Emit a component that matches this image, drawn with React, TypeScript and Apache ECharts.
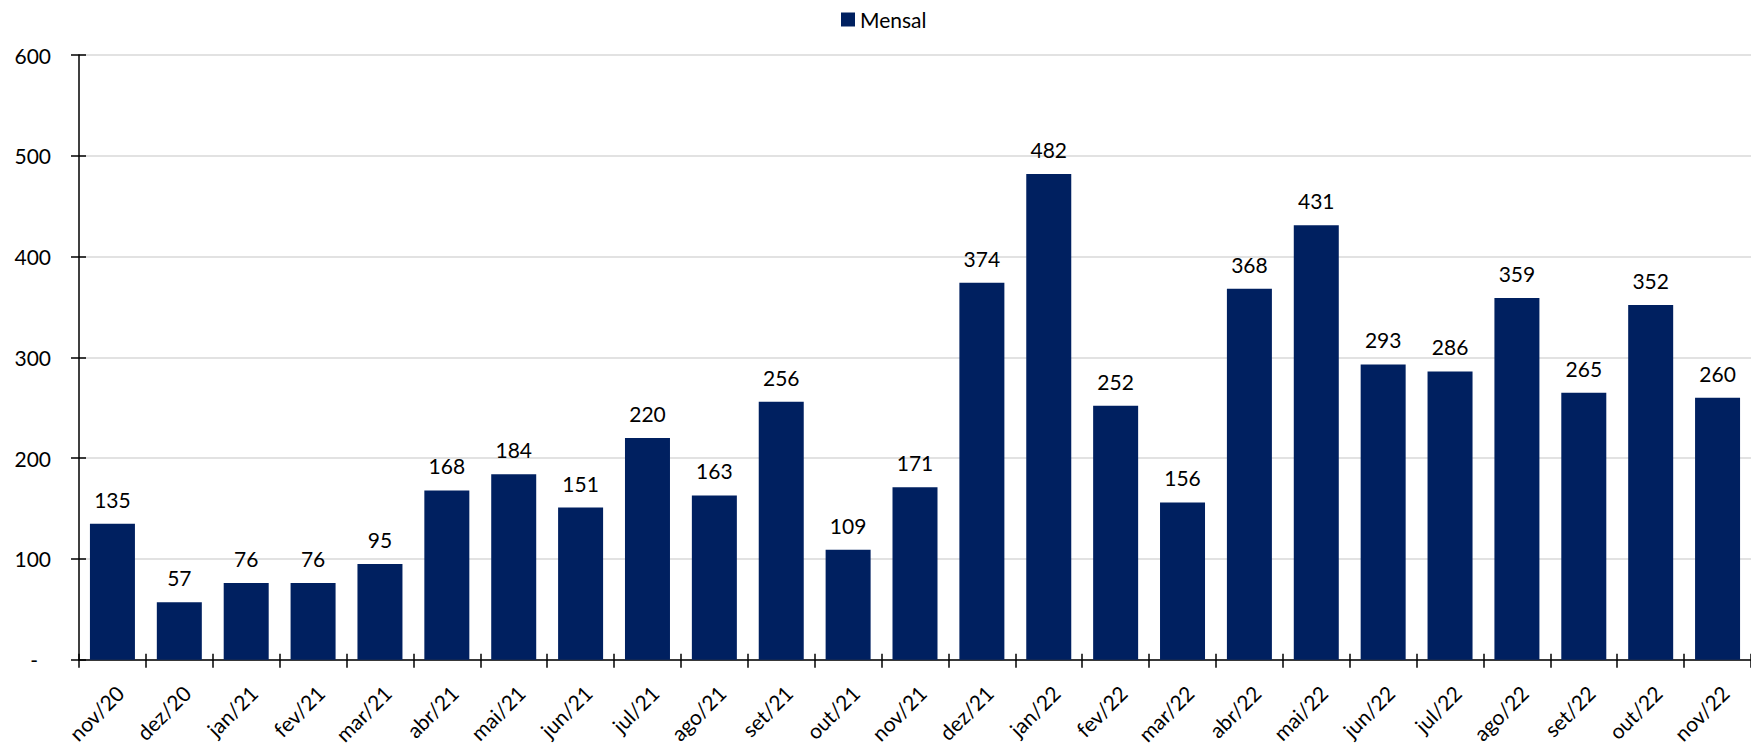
import React, { useEffect, useRef } from "react";
import * as echarts from "echarts";

const categories = [
  "nov/20", "dez/20", "jan/21", "fev/21", "mar/21", "abr/21", "mai/21", "jun/21",
  "jul/21", "ago/21", "set/21", "out/21", "nov/21", "dez/21", "jan/22", "fev/22",
  "mar/22", "abr/22", "mai/22", "jun/22", "jul/22", "ago/22", "set/22", "out/22", "nov/22",
];
const mensal = [
  135, 57, 76, 76, 95, 168, 184, 151, 220, 163, 256, 109, 171, 374, 482, 252,
  156, 368, 431, 293, 286, 359, 265, 352, 260,
];
const seriesName = "Mensal";
const yMin = 0;
const yMax = 600;
const yInterval = 100;

const FONT = "Lato";
const BAR = "#002060";

export default function App() {
  const ref = useRef<HTMLDivElement>(null);
  useEffect(() => {
    document.body.style.margin = "0";
    const chart = echarts.init(ref.current!, null, { renderer: "svg" });
    chart.setOption({
      animation: false,
      textStyle: { fontFamily: FONT },
      legend: {
        data: [seriesName],
        left: 841,
        top: 9,
        padding: 0,
        itemWidth: 14,
        itemHeight: 14,
        icon: "rect",
        textStyle: { fontFamily: FONT, fontSize: 21, color: "#000" },
      },
      grid: { left: 79, right: -6, top: 55, bottom: 87, containLabel: false },
      xAxis: [
        {
          type: "category",
          data: categories,
          boundaryGap: true,
          axisLine: { lineStyle: { color: "#000", width: 1.5 } },
          axisTick: { show: true, length: 8, lineStyle: { color: "#000", width: 1.5 } },
          axisLabel: {
            rotate: 45,
            interval: 0,
            margin: 22,
            verticalAlign: "top",
            fontFamily: FONT,
            fontSize: 21,
            color: "#000",
          },
        },
        {
          type: "category",
          data: categories,
          position: "bottom",
          boundaryGap: true,
          axisLine: { show: false },
          axisTick: { show: true, inside: true, length: 6, lineStyle: { color: "#000", width: 1.5 } },
          axisLabel: { show: false },
        },
      ],
      yAxis: [
        {
          type: "value",
          min: yMin,
          max: yMax,
          interval: yInterval,
          axisLine: { show: true, lineStyle: { color: "#000", width: 1.5 } },
          axisTick: { show: true, length: 8, lineStyle: { color: "#000", width: 1.5 } },
          splitLine: { show: true, lineStyle: { color: "#d9d9d9", width: 1.5 } },
          axisLabel: {
            margin: 28,
            fontFamily: FONT,
            fontSize: 21,
            color: "#000",
            formatter: (v: number) => (v === 0 ? "{d|-}" : String(v)),
            rich: { d: { fontFamily: FONT, fontSize: 21, color: "#000", padding: [0, 13, 0, 0] } },
          },
        },
        {
          type: "value",
          min: yMin,
          max: yMax,
          interval: yInterval,
          position: "left",
          axisLine: { show: false },
          axisTick: { show: true, inside: true, length: 7, lineStyle: { color: "#000", width: 1.5 } },
          splitLine: { show: false },
          axisLabel: { show: false },
        },
      ],
      series: [
        {
          name: seriesName,
          type: "bar",
          data: mensal,
          barWidth: 45,
          itemStyle: { color: BAR },
          label: {
            show: true,
            position: "top",
            distance: 14,
            fontFamily: FONT,
            fontSize: 21,
            lineHeight: 21,
            color: "#000",
          },
        },
      ],
    });
    return () => chart.dispose();
  }, []);
  return <div ref={ref} style={{ width: 1751, height: 747 }} />;
}
